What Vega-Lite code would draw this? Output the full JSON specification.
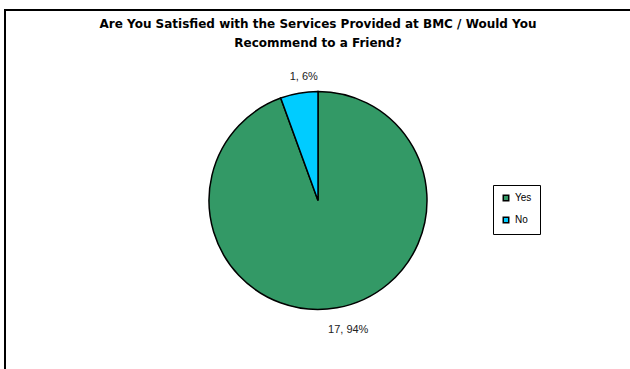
{
  "$schema": "https://vega.github.io/schema/vega-lite/v6.json",
  "autosize": {"type": "none"},
  "padding": {"left": 5, "top": 10, "right": 0, "bottom": 0},
  "width": 626,
  "height": 381,
  "background": "white",
  "view": {"stroke": "black", "strokeWidth": 2},
  "title": {
    "text": ["Are You Satisfied with the Services Provided at BMC /  Would You", "Recommend to a Friend?"],
    "anchor": "middle",
    "frame": "group",
    "offset": 0,
    "dy": 40,
    "lineHeight": 19,
    "font": "DejaVu Sans",
    "fontSize": 12,
    "fontWeight": "bold",
    "color": "black"
  },
  "data": {
    "values": [
      {"answer": "Yes", "count": 17, "label": "17, 94%"},
      {"answer": "No", "count": 1, "label": "1, 6%"}
    ]
  },
  "encoding": {
    "theta": {"field": "count", "type": "quantitative", "stack": true},
    "order": {"field": "answer", "sort": "descending"}
  },
  "layer": [
    {
      "mark": {"type": "arc", "outerRadius": 109, "stroke": "black", "strokeWidth": 1.5},
      "encoding": {
        "color": {
          "field": "answer",
          "type": "nominal",
          "scale": {"domain": ["Yes", "No"], "range": ["#339966", "#00CCFF"]},
          "legend": {
            "title": null,
            "orient": "none",
            "legendX": 488,
            "legendY": 175,
            "symbolType": "square",
            "symbolSize": 30,
            "symbolStrokeColor": "black",
            "symbolStrokeWidth": 1.5,
            "labelFont": "Liberation Sans",
            "labelFontSize": 10,
            "labelColor": "black",
            "rowPadding": 10,
            "padding": 8,
            "strokeColor": "black",
            "labelOffset": 4
          }
        }
      }
    },
    {
      "mark": {"type": "text", "radius": 128, "dx": 8, "dy": 3, "font": "Liberation Sans", "fontSize": 11, "color": "#222222"},
      "encoding": {
        "text": {"field": "label", "type": "nominal"}
      }
    }
  ],
  "config": {
    "view": {"stroke": "black", "strokeWidth": 2},
    "font": "Liberation Sans"
  }
}
